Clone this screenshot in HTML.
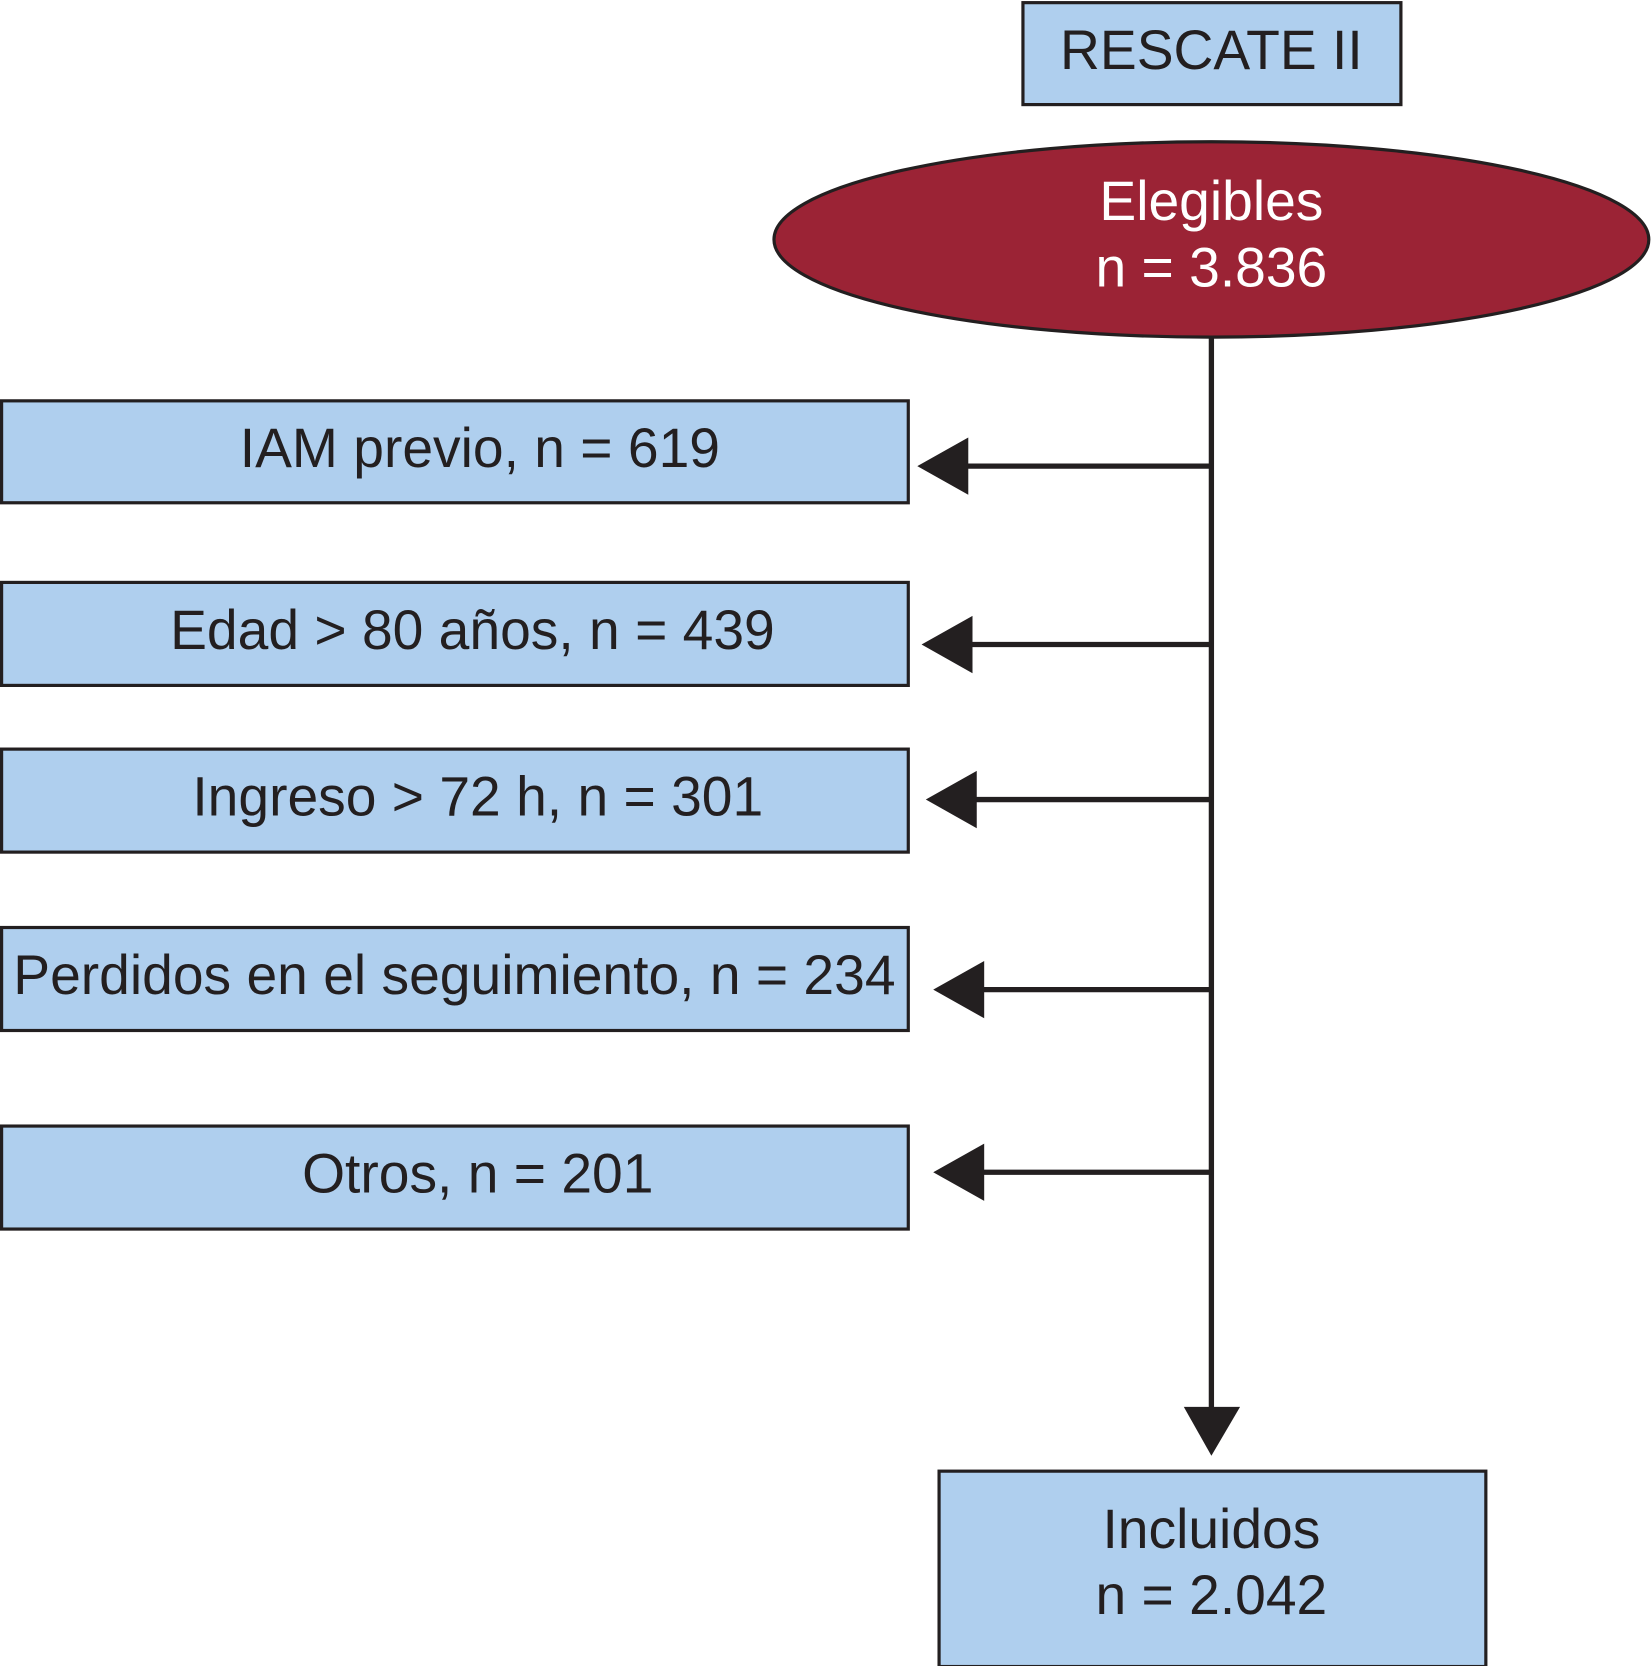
<!DOCTYPE html>
<html><head><meta charset="utf-8"><style>html,body{margin:0;padding:0;background:#fff}svg{display:block}</style></head>
<body>
<svg width="1652" height="1666" viewBox="0 0 1556 1569" preserveAspectRatio="none" xmlns="http://www.w3.org/2000/svg" font-family="Liberation Sans, sans-serif" fill="#231f20">
<g stroke="#231f20" stroke-width="3" fill="#afcfee">
<rect x="963.5" y="2.5" width="356" height="96"/>
<rect x="1.5" y="377.5" width="854" height="96"/>
<rect x="1.5" y="548.5" width="854" height="97"/>
<rect x="1.5" y="705.5" width="854" height="97"/>
<rect x="1.5" y="873.5" width="854" height="97"/>
<rect x="1.5" y="1060.5" width="854" height="97"/>
<rect x="884.5" y="1385.5" width="515" height="184"/>
<ellipse cx="1141" cy="225.5" rx="412" ry="92" fill="#9b2335"/>
</g>
<g stroke="#231f20" stroke-width="5">
<line x1="1141" y1="318" x2="1141" y2="1330"/>
<line x1="1141" y1="439" x2="905" y2="439"/>
<line x1="1141" y1="607" x2="910" y2="607"/>
<line x1="1141" y1="753" x2="915" y2="753"/>
<line x1="1141" y1="932" x2="922" y2="932"/>
<line x1="1141" y1="1104" x2="922" y2="1104"/>
</g>
<g fill="#231f20">
<polygon points="1115,1325 1168,1325 1141,1371"/>
<polygon points="864,439 912,412 912,466"/>
<polygon points="868,607 916,580 916,634"/>
<polygon points="872,753 920,726 920,780"/>
<polygon points="879,932 927,905 927,959"/>
<polygon points="879,1104 927,1077 927,1131"/>
</g>
<g font-size="52" text-anchor="middle">
<text x="1141" y="65">RESCATE II</text>
<text x="1141" y="207" fill="#fff">Elegibles</text>
<text x="1141" y="270" fill="#fff">n = 3.836</text>
<text x="452" y="440">IAM previo, n = 619</text>
<text x="445" y="611">Edad &gt; 80 años, n = 439</text>
<text x="450" y="768">Ingreso &gt; 72 h, n = 301</text>
<text x="428" y="936">Perdidos en el seguimiento, n = 234</text>
<text x="450" y="1123">Otros, n = 201</text>
<text x="1141" y="1458">Incluidos</text>
<text x="1141" y="1520">n = 2.042</text>
</g>
</svg>
</body></html>
